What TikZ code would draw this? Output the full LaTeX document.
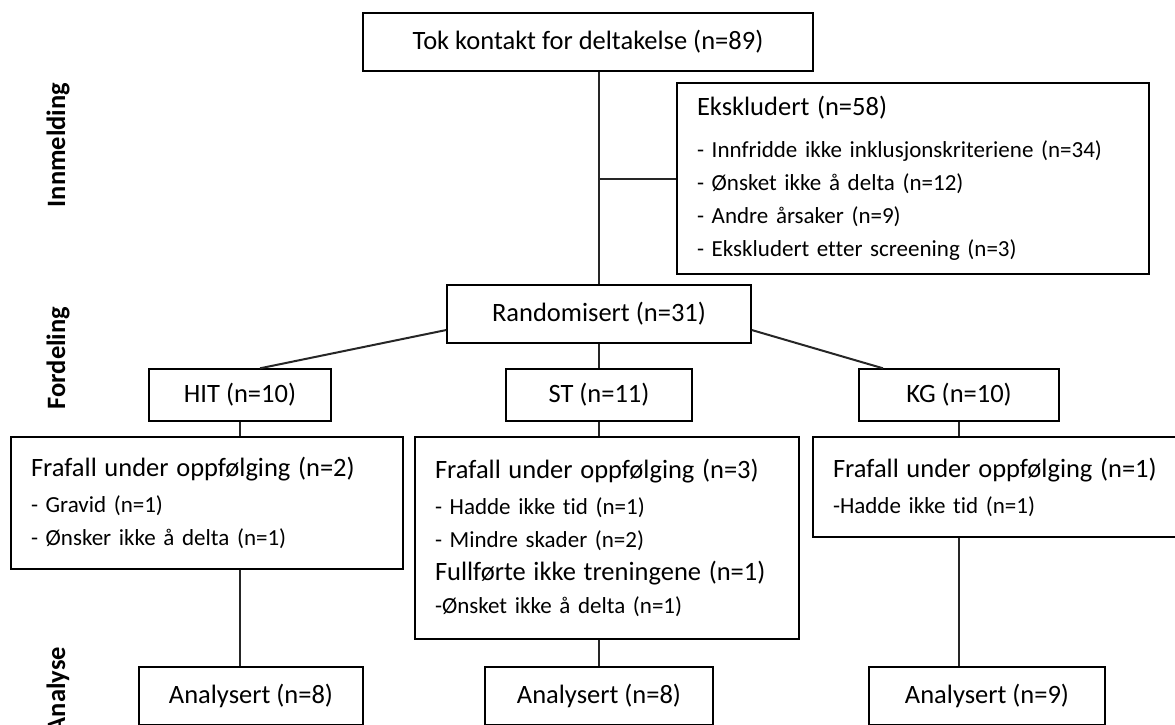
\documentclass[tikz,border=0pt]{standalone}
\usepackage{fontspec}
\setmainfont{Carlito}[Ligatures=NoCommon]
\usetikzlibrary{positioning}
\newcommand{\storTekst}{\fontsize{26.5}{32}\selectfont}
\newcommand{\litenTekst}{\fontsize{23}{33}\selectfont}

\begin{document}
\begin{tikzpicture}[x=1pt, y=-1pt,
    boks/.style = {draw, line width=1.4pt, inner sep=0pt, font=\storTekst},
    liste/.style = {boks, align=left, inner xsep=20pt, font=\litenTekst},
    fase/.style = {rotate=90, font=\storTekst\bfseries},
    linje/.style = {line width=2pt, draw=black!85}]
    % Ramme
    \useasboundingbox (0,0) rectangle (1175,724);
    % Faser
    \node[fase] (innm) at (58,145) {Innmelding};
    \node[fase] (ford) at (58,358) {Fordeling};
    \node[fase] (anal) at (58,690) {Analyse};
    % Innmelding
    \node[boks, minimum width=450pt, minimum height=58pt] (kontakt) at (588,42) {Tok kontakt for deltakelse (n=89)};
    \node[liste, text width=432pt, minimum height=191pt] (eks) at (913,178.5)
        {{\storTekst Ekskludert (n=58)}\\[9pt]
         - Innfridde ikke inklusjonskriteriene (n=34)\\
         - Ønsket ikke å delta (n=12)\\
         - Andre årsaker (n=9)\\
         - Ekskludert etter screening (n=3)};
    % Fordeling
    \node[boks, minimum width=304pt, minimum height=58pt] (rand) at (599,314) {Randomisert (n=31)};
    \node[boks, minimum width=182pt, minimum height=52pt] (hit) at (240,395) {HIT (n=10)};
    \node[boks, minimum width=186pt, minimum height=52pt] (st) at (599,395) {ST (n=11)};
    \node[boks, minimum width=200pt, minimum height=52pt] (kg) at (959,395) {KG (n=10)};
    % Frafall
    \node[liste, text width=352pt, minimum height=132pt] (fraHit) at (207,503)
        {{\storTekst Frafall under oppfølging (n=2)}\\[3pt]
         - Gravid (n=1)\\
         - Ønsker ikke å delta (n=1)};
    \node[liste, text width=344pt, minimum height=202pt] (fraSt) at (607,538)
        {{\storTekst Frafall under oppfølging (n=3)}\\[3pt]
         - Hadde ikke tid (n=1)\\
         - Mindre skader (n=2)\\
         {\storTekst Fullførte ikke treningene (n=1)}\\
         -Ønsket ikke å delta (n=1)};
    \node[liste, text width=324pt, minimum height=100pt] (fraKg) at (995,487)
        {{\storTekst Frafall under oppfølging (n=1)}\\[3pt]
         -Hadde ikke tid (n=1)};
    % Analyse
    \node[boks, minimum width=224pt, minimum height=58pt] (anHit) at (251,696) {Analysert (n=8)};
    \node[boks, minimum width=228pt, minimum height=58pt] (anSt) at (599,696) {Analysert (n=8)};
    \node[boks, minimum width=236pt, minimum height=58pt] (anKg) at (987,696) {Analysert (n=9)};
    % Linjer
    \draw[linje] (kontakt.south -| rand.north) -- (rand.north);
    \draw[linje] (eks.west) -- (eks.west -| rand.north);
    \draw[linje] ([yshift=-16pt]rand.west) -- ([xshift=20pt]hit.north);
    \draw[linje] ([yshift=-16pt]rand.east) -- ([xshift=-76pt]kg.north);
    \draw[linje] (rand.south) -- (st.north);
    \draw[linje] (hit.south) -- (hit.south |- fraHit.north);
    \draw[linje] (st.south) -- (st.south |- fraSt.north);
    \draw[linje] (kg.south) -- (kg.south |- fraKg.north);
    \draw[linje] (fraHit.south -| hit.south) -- (anHit.north -| hit.south);
    \draw[linje] (fraSt.south -| anSt.north) -- (anSt.north);
    \draw[linje] (fraKg.south -| kg.south) -- (anKg.north -| kg.south);
\end{tikzpicture}
\end{document}
